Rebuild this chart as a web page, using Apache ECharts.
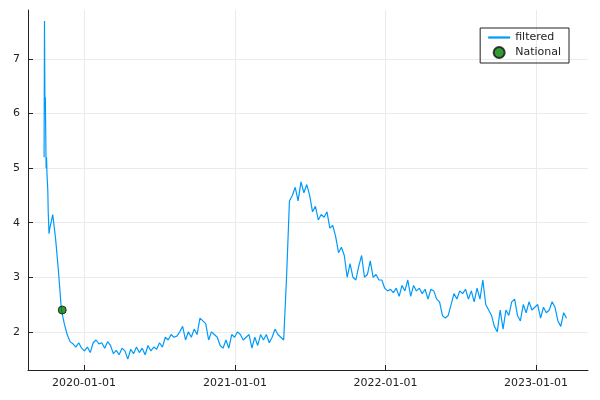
<!DOCTYPE html><html><head><meta charset="utf-8"><script src="https://cdn.jsdelivr.net/npm/echarts@6/dist/echarts.min.js"></script>
<style>body{margin:0}#c{width:600px;height:400px}</style></head><body><div id="c"></div><script>
const earlyDates=['2019-09-26','2019-09-27','2019-09-28','2019-09-29','2019-10-01','2019-10-02','2019-10-03','2019-10-05','2019-10-06','2019-10-08'];
const earlyValues=[5.2,7.7,6.2,6.3,5.0,5.2,4.9,4.6,4.2,3.8];
const weeklyStart='2019-10-10';
const weeklyValues=[3.9,4.15,3.7,3.1,2.4,2.15,1.95,1.82,1.78,1.72,1.8,1.7,1.65,1.72,1.62,1.8,1.85,1.78,1.8,1.7,1.82,1.75,1.6,1.66,1.58,1.7,1.65,1.5,1.68,1.6,1.72,1.62,1.7,1.58,1.75,1.65,1.72,1.68,1.8,1.72,1.9,1.85,1.95,1.9,1.92,2.0,2.1,1.85,2.0,1.9,2.05,1.95,2.25,2.2,2.15,1.85,2.0,1.95,1.9,1.75,1.7,1.85,1.7,1.95,1.9,2.0,1.95,1.85,1.9,1.95,1.7,1.9,1.75,1.95,1.85,1.95,1.8,1.9,2.05,1.95,1.9,1.85,3.0,4.4,4.5,4.65,4.4,4.75,4.55,4.7,4.5,4.2,4.3,4.05,4.15,4.1,4.2,3.9,3.95,3.75,3.45,3.55,3.4,3.0,3.25,3.0,2.95,3.2,3.4,3.0,3.05,3.3,3.0,3.05,2.95,2.95,2.8,2.75,2.78,2.72,2.8,2.65,2.85,2.75,2.95,2.65,2.85,2.75,2.8,2.7,2.78,2.6,2.78,2.75,2.6,2.55,2.3,2.25,2.3,2.5,2.7,2.6,2.75,2.7,2.78,2.6,2.75,2.55,2.8,2.6,2.95,2.5,2.4,2.3,2.1,2.0,2.4,2.05,2.4,2.3,2.55,2.6,2.3,2.2,2.5,2.35,2.55,2.4,2.45,2.5,2.25,2.45,2.35,2.4,2.55,2.45,2.2,2.1,2.35,2.25];
const nationalDate='2019-11-09', nationalValue=2.4;
const xTicks=['2020-01-01','2021-01-01','2022-01-01','2023-01-01'];
const yTicks=[2,3,4,5,6,7];
const DAY=86400000;
const filtered=earlyDates.map((d,i)=>[Date.parse(d),earlyValues[i]]);
const ws=Date.parse(weeklyStart);
weeklyValues.forEach((v,i)=>filtered.push([ws+i*7*DAY,v]));
const xt=xTicks.map(d=>Date.parse(d));
const fmt=v=>new Date(v).toISOString().slice(0,10);
const chart=echarts.init(document.getElementById('c'));
const gridLine={color:'#ebebeb',width:1};
chart.setOption({
 animation:false,
 textStyle:{fontFamily:'DejaVu Sans'},
 grid:{left:28,right:12,top:10,bottom:30},
 xAxis:{type:'value',min:Date.parse('2019-08-18'),max:Date.parse('2023-05-07'),
  axisLine:{lineStyle:{color:'#222'}},
  axisTick:{customValues:xt,inside:true,lineStyle:{color:'#222'}},
  axisLabel:{customValues:xt,formatter:fmt,color:'#222',fontSize:11},
  splitLine:{show:false}},
 yAxis:{type:'value',min:1.3,max:7.9,
  axisLine:{show:true,lineStyle:{color:'#222'}},
  axisTick:{show:true,customValues:yTicks,inside:true,lineStyle:{color:'#222'}},
  axisLabel:{customValues:yTicks,color:'#222',fontSize:11},
  splitLine:{show:false}},
 legend:{right:31,top:28,orient:'vertical',borderColor:'#222',borderWidth:1,borderRadius:0,padding:[4,8,4,8],itemGap:3,itemWidth:22,itemHeight:11,textStyle:{fontSize:11,color:'#222'},
  data:[{name:'filtered',icon:'path://M0,5L10,5L10,6L0,6Z'},{name:'National',icon:'circle'}]},
 series:[
  {name:'filtered',type:'line',data:filtered,showSymbol:false,lineStyle:{color:'#009af9',width:1.2},itemStyle:{color:'#009af9'},
   markLine:{silent:true,symbol:'none',label:{show:false},lineStyle:{color:'#ebebeb',type:'solid',width:1},z:0,
    data:[...xt.map(x=>({xAxis:x})),...yTicks.map(y=>({yAxis:y}))]}},
  {name:'National',type:'scatter',data:[[Date.parse(nationalDate),nationalValue]],symbolSize:8,itemStyle:{color:'#008000',borderColor:'#111',borderWidth:1},z:5}
 ]
});
</script></body></html>
